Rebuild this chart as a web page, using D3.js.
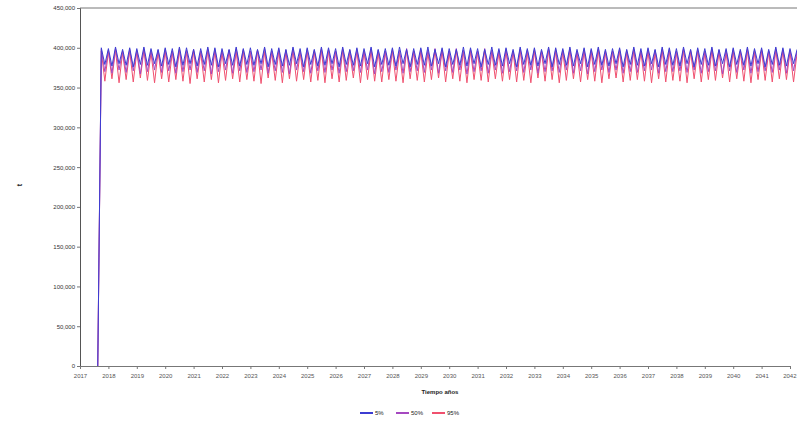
<!DOCTYPE html>
<html>
<head>
<meta charset="utf-8">
<script src="https://cdn.jsdelivr.net/npm/d3@7"></script>
<style>
  body { margin: 0; background: #fff; }
  svg { display: block; font-family: "Liberation Sans", Arial, sans-serif; }
</style>
</head>
<body>
<svg width="797" height="424"></svg>
<script>
// y axis ticks (t), x axis years
let yTicks = [0, 50000, 100000, 150000, 200000, 250000, 300000, 350000, 400000, 450000]
let years = d3.range(2017, 2043)
let tStart = 2017.625  // first step
let tStep = 0.125      // years per step

// values in thousands, one per step
let s5 = `0
400 379 399 377 401 380 398 378 400 376 399 379 401 378 399 380
398 377 400 379 399 376 401 378 400 380 398 377 399 379 401 378
400 376 399 380 398 378 401 377 399 379 400 378 398 380 401 376
399 379 400 377 398 378 401 380 399 376 400 379 398 377 401 378
400 380 399 376 401 379 398 378 400 377 399 380 401 376 398 379
399 378 400 377 401 380 398 376 399 379 400 378 401 377 398 380
400 376 399 379 398 378 401 377 400 380 399 376 398 379 401 378
399 377 400 380 398 376 401 379 399 378 400 377 398 380 401 376
400 379 399 378 401 377 398 380 400 376 399 379 401 378 398 377
399 380 400 376 398 379 401 378 399 377 400 380 398 376 401 379
400 378 399 377 401 380 398 376 400 379 399 378 401 377 398 380
399 376 400 379 398 378 401 377 399 380 400 376 398 379 401 378
400 377 399 380 398`

let s50 = `0
398 370 397 368 399 372 396 369 398 371 397 367 399 370 396 372
397 369 398 371 396 368 399 370 397 372 398 369 396 371 399 367
398 370 396 372 397 368 399 371 398 369 396 370 397 372 399 368
396 371 398 369 397 367 399 372 396 370 398 368 397 371 399 369
398 372 396 368 399 370 397 371 398 369 396 372 399 367 397 370
396 369 398 372 397 368 399 370 396 371 398 369 397 372 399 368
398 371 396 369 399 372 397 367 398 370 396 371 399 368 397 372
397 368 398 370 396 371 399 369 397 372 398 368 396 370 399 371
398 369 397 372 399 368 396 371 398 367 397 370 399 372 396 369
396 372 398 368 397 370 399 369 396 371 398 372 397 368 399 370
398 370 396 371 399 369 397 372 398 368 396 370 399 371 397 367
397 371 398 369 396 372 399 368 397 370 398 371 396 369 399 372
398 368 397 371 396`

let s95 = `0
396 358 395 361 397 356 394 360 396 357 395 362 397 359 394 356
395 361 396 357 394 360 397 358 395 355 396 361 394 357 397 360
396 356 394 359 397 361 395 357 396 360 394 358 397 355 395 362
394 359 396 356 395 361 397 358 394 360 396 357 395 359 397 356
396 361 395 357 397 359 394 362 396 356 395 360 397 358 394 357
395 360 396 358 394 356 397 361 395 359 396 357 394 360 397 362
396 357 394 361 397 358 395 356 396 360 394 359 397 357 395 361
394 358 396 360 395 357 397 359 394 356 396 362 395 358 397 360
396 356 395 359 397 361 394 357 396 360 395 358 397 356 394 361
395 362 396 357 394 359 397 360 395 358 396 356 394 361 397 357
396 359 394 358 397 356 395 361 396 357 394 360 397 359 395 362
394 357 396 361 395 358 397 356 394 360 396 359 395 357 397 361
396 360 395 357 394`

let parse = s => s.trim().split(/\s+/).map(v => +v * 1000)
// drawn back to front: 95% under, 5% on top
let seriesValues = [parse(s95), parse(s50), parse(s5)]
let seriesColors = ['#f0506e', '#a548c0', '#3c3cd2']

let svg = d3.select('svg')

let x = d3.scaleLinear().domain([2017, 2042]).range([80, 790])
let y = d3.scaleLinear().domain([0, 450000]).range([366, 8])

// clip to plot area
svg.append('clipPath').attr('id', 'plot')
    .append('rect').attr('x', 80).attr('y', 0).attr('width', 717).attr('height', 366)

// top border
svg.append('line')
    .attr('x1', 80).attr('x2', 797).attr('y1', 8).attr('y2', 8)
    .attr('stroke', '#777').attr('stroke-width', 1)

let line = d3.line()
    .x((d, i) => x(tStart + i * tStep))
    .y(d => y(d))

let g = svg.append('g').attr('clip-path', 'url(#plot)')
seriesValues.forEach((vals, k) => {
    g.append('path')
        .datum(vals)
        .attr('fill', 'none')
        .attr('stroke', seriesColors[k])
        .attr('stroke-width', 1)
        .attr('d', line)
})

// y axis
let yAxis = svg.append('g')
    .attr('transform', 'translate(80,0)')
    .call(d3.axisLeft(y).tickValues(yTicks).tickSize(3).tickFormat(d3.format(',')))
yAxis.select('.domain').attr('stroke', '#555')
yAxis.selectAll('.tick line').attr('stroke', '#777')
yAxis.selectAll('text').attr('font-size', 6).attr('fill', '#333').attr('x', -5)

// x axis
let xAxis = svg.append('g')
    .attr('transform', 'translate(0,366)')
    .call(d3.axisBottom(x).tickValues(years).tickSize(3).tickFormat(d3.format('d')))
xAxis.select('.domain').attr('stroke', '#777')
xAxis.selectAll('.tick line').attr('stroke', '#777')
xAxis.selectAll('text').attr('font-size', 6).attr('fill', '#555').attr('y', 8)
xAxis.selectAll('.tick').filter(d => d === 2042).select('text').attr('text-anchor', 'end').attr('x', 6)

// axis titles
svg.append('text')
    .attr('transform', 'translate(22,185) rotate(-90)')
    .attr('text-anchor', 'middle')
    .attr('font-size', 7).attr('font-weight', 'bold').attr('fill', '#222')
    .text('t')

svg.append('text')
    .attr('x', 440).attr('y', 394)
    .attr('text-anchor', 'middle')
    .attr('font-size', 6).attr('font-weight', 'bold').attr('fill', '#222')
    .text('Tiempo años')

// legend
let legendNames = ['5%', '50%', '95%']
let legendColors = ['#3c3cd2', '#a548c0', '#f0506e']
let legend = svg.append('g').attr('transform', 'translate(360,413)')
legendNames.forEach((name, i) => {
    let lx = i * 36
    legend.append('line')
        .attr('x1', lx).attr('x2', lx + 13).attr('y1', 0).attr('y2', 0)
        .attr('stroke', legendColors[i]).attr('stroke-width', 2)
    legend.append('text')
        .attr('x', lx + 15).attr('y', 2)
        .attr('font-size', 6).attr('fill', '#222')
        .text(name)
})
</script>
</body>
</html>
